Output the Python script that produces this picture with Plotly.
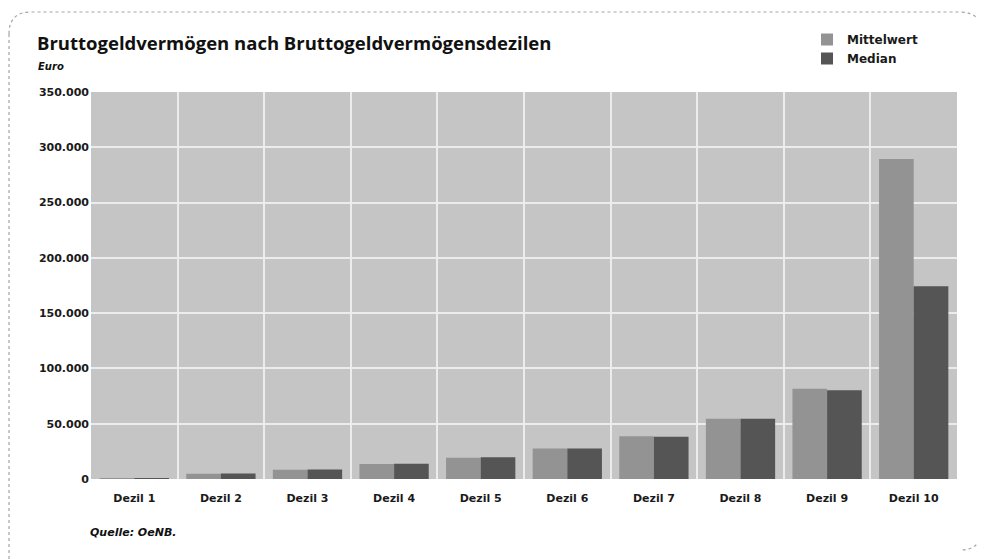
import plotly.graph_objects as go

categories = ["Dezil 1", "Dezil 2", "Dezil 3", "Dezil 4", "Dezil 5",
              "Dezil 6", "Dezil 7", "Dezil 8", "Dezil 9", "Dezil 10"]
mittelwert = [800, 4700, 8300, 13600, 19300, 27500, 38600, 54600, 81700, 289300]
median = [700, 4900, 8500, 13700, 19600, 27600, 38300, 54500, 80200, 174300]
y_ticks = [0, 50000, 100000, 150000, 200000, 250000, 300000, 350000]

OFF = 8                      # page body margin in the browser
W, H = 985 - OFF, 559 - OFF  # figure size
# plot area in page pixels
L, R, T, B = 91, 957, 92, 479

def px(x):
    return (x - L) / (R - L)

def py(y):
    return (B - y) / (B - T)

fig = go.Figure()
fig.add_trace(go.Bar(name="Mittelwert", x=categories, y=mittelwert,
                     marker=dict(color="#939393", line=dict(width=0))))
fig.add_trace(go.Bar(name="Median", x=categories, y=median,
                     marker=dict(color="#555555", line=dict(width=0))))

tick_family = "DejaVu Sans, Verdana, sans-serif"
title_family = "Open Sans, DejaVu Sans, sans-serif"

fig.update_layout(
    width=W, height=H,
    barmode="group", bargap=0.2, bargroupgap=0,
    paper_bgcolor="white", plot_bgcolor="#c5c5c5",
    margin=dict(l=L - OFF, r=(W + OFF) - R, t=T - OFF, b=(H + OFF) - B,
                autoexpand=False),
    separators=",.",
    font=dict(family=tick_family, color="#1a1a1a"),
    showlegend=True,
    legend=dict(x=px(807), y=py(25), xanchor="left", yanchor="top",
                bgcolor="rgba(0,0,0,0)",
                font=dict(size=12, weight="bold", family=tick_family),
                itemwidth=30, tracegroupgap=0),
    xaxis=dict(type="category", tickson="boundaries", showgrid=True,
               gridcolor="#ececec", gridwidth=2, ticks="",
               tickfont=dict(size=11, weight="bold"), showline=False,
               zeroline=False, ticklabelstandoff=11),
    yaxis=dict(range=[0, 350000], tickvals=y_ticks, tickformat=",d",
               showgrid=True, gridcolor="#ececec", gridwidth=2,
               tickfont=dict(size=11, weight="bold"), ticks="",
               zeroline=False, showline=False, ticklabelstandoff=1),
    title=dict(text="<b>Bruttogeldvermögen nach Bruttogeldvermögensdezilen</b>",
               x=(37 - OFF) / W, xanchor="left", xref="container",
               y=1 - (37 - OFF) / H, yanchor="top", yref="container",
               font=dict(size=18.5, family=title_family, color="#111111")),
)

fig.add_annotation(text="<b><i>Euro</i></b>", xref="paper", yref="paper",
                   x=px(36), y=py(59), xanchor="left", yanchor="top",
                   showarrow=False,
                   font=dict(size=10, color="#111111", family=tick_family))
fig.add_annotation(text="<b><i>Quelle: OeNB.</i></b>", xref="paper", yref="paper",
                   x=px(88), y=py(524), xanchor="left", yanchor="top",
                   showarrow=False,
                   font=dict(size=11, color="#111111", family=tick_family))

# dotted rounded frame (page pixel coordinates)
rr = 22
path = (f"M {px(9)},{py(12+rr)} Q {px(9)},{py(12)} {px(9+rr)},{py(12)} "
        f"L {px(982-rr)},{py(12)} Q {px(982)},{py(12)} {px(982)},{py(12+rr)} "
        f"L {px(982)},{py(528)} Q {px(982)},{py(550)} {px(982-rr)},{py(550)} "
        f"M {px(9)},{py(12+rr)} L {px(9)},{py(600)}")
fig.add_shape(type="path", path=path, xref="paper", yref="paper",
              line=dict(color="#a5a5a5", width=1.2, dash="dot"))

fig.write_html("out.html")
